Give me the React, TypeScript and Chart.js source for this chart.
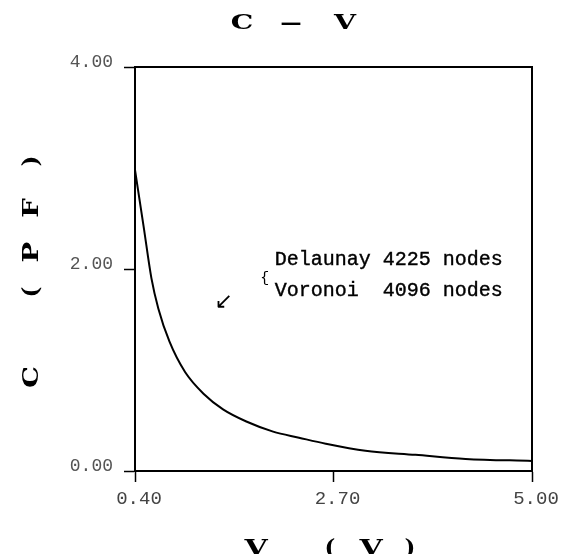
import React, { useEffect, useRef } from "react";
import { Chart, registerables } from "chart.js";

Chart.register(...registerables);

// ---- data ----
const voltage = [0.40, 0.50, 0.59, 0.67, 0.80, 0.98, 1.20, 1.42, 1.69, 2.00, 2.30, 2.61, 3.07, 3.65, 4.23, 5.00];
const capacitance = [2.98, 2.42, 1.91, 1.61, 1.28, 0.98, 0.76, 0.61, 0.49, 0.39, 0.33, 0.27, 0.20, 0.16, 0.12, 0.10];
const xTickValues = [0.4, 2.7, 5.0];
const yTickValues = [0, 2, 4];
const titleChars = ["C", "—", "V"];
const xTitleChars = ["V", "(", "V", ")"];
const yTitleChars = ["C", "(", "P", "F", ")"];
const noteLines = ["Delaunay 4225 nodes", "Voronoi  4096 nodes"];
const noteAnchor = { v: 2.02, c: 2.04 };

const SERIF = '"DejaVu Serif", "Liberation Serif", serif';
const MONO = '"Liberation Mono", "DejaVu Sans Mono", monospace';

const textPlugin = {
  id: "textPlugin",
  afterDraw(chart: any) {
    const ctx = chart.ctx as CanvasRenderingContext2D;
    const area = chart.chartArea;
    ctx.save();
    // frame
    ctx.strokeStyle = "#000";
    ctx.lineWidth = 2;
    ctx.strokeRect(area.left, area.top, area.right - area.left, area.bottom - area.top);

    const drawChar = (ch: string, cx: number, cy: number, size: number, rot: number, sx: number) => {
      ctx.save();
      ctx.translate(cx, cy);
      ctx.rotate(rot);
      ctx.scale(sx, 1);
      ctx.font = `bold ${size}px ${SERIF}`;
      ctx.fillStyle = "#000";
      ctx.textAlign = "center";
      ctx.textBaseline = "alphabetic";
      ctx.fillText(ch, 0, size * 0.36);
      ctx.restore();
    };

    // title
    const titleX = [242, 291, 345];
    titleChars.forEach((ch, i) => drawChar(ch, titleX[i], 21, 21, 0, ch === "—" ? 1 : 1.35));
    // x title
    const xTitleX = [256, 330, 371, 410];
    xTitleChars.forEach((ch, i) => drawChar(ch, xTitleX[i], 547, 23, 0, ch === "(" || ch === ")" ? 1 : 1.3));
    // y title
    const yTitleY = [377, 292, 252, 208, 161];
    yTitleChars.forEach((ch, i) => drawChar(ch, 30, yTitleY[i], 23, -Math.PI / 2, ch === "(" || ch === ")" ? 1 : 1.2));

    // annotation
    const xs = chart.scales.x;
    const ys = chart.scales.y;
    const ax = xs.getPixelForValue(noteAnchor.v);
    const ay = ys.getPixelForValue(noteAnchor.c);
    ctx.fillStyle = "#000";
    ctx.strokeStyle = "#000";
    ctx.lineWidth = 0.4;
    ctx.font = `20px ${MONO}`;
    ctx.textAlign = "left";
    ctx.textBaseline = "alphabetic";
    noteLines.forEach((line, i) => {
      ctx.fillText(line, ax, ay + i * 31);
      ctx.strokeText(line, ax, ay + i * 31);
    });
    ctx.font = `15px ${MONO}`;
    ctx.textAlign = "center";
    ctx.textBaseline = "middle";
    ctx.fillText("{", ax - 10, ay + 13);
    ctx.font = `22px "DejaVu Sans", sans-serif`;
    ctx.fillText("↙", ax - 51, ay + 37);
    ctx.restore();
  },
};

export default function App() {
  const canvasRef = useRef<HTMLCanvasElement | null>(null);

  useEffect(() => {
    if (!canvasRef.current) return;
    const chart = new Chart(canvasRef.current, {
      type: "line",
      data: {
        datasets: [
          {
            label: "C-V",
            data: voltage.map((v, i) => ({ x: v, y: capacitance[i] })),
            borderColor: "#000",
            borderWidth: 2,
            pointRadius: 0,
            fill: false,
            cubicInterpolationMode: "monotone",
          },
        ],
      },
      options: {
        responsive: false,
        animation: false,
        events: [],
        layout: { padding: { left: 0, right: 31, top: 67, bottom: 0 } },
        plugins: {
          legend: { display: false },
          title: { display: false },
          tooltip: { enabled: false },
        },
        scales: {
          x: {
            type: "linear",
            min: 0.4,
            max: 5.0,
            afterBuildTicks: (scale: any) => {
              scale.ticks = xTickValues.map((v) => ({ value: v }));
            },
            afterFit: (scale: any) => {
              scale.height = 83;
            },
            ticks: {
              autoSkip: false,
              maxRotation: 0,
              padding: 6,
              labelOffset: 4,
              color: "#444",
              font: { family: MONO, size: 19 },
              callback: (v: any) => Number(v).toFixed(2),
            },
            grid: {
              display: true,
              drawOnChartArea: false,
              drawTicks: true,
              tickLength: 11,
              tickColor: "#000",
              tickWidth: 1.5,
            },
            border: { display: true, color: "#000", width: 2 },
          },
          y: {
            type: "linear",
            min: 0,
            max: 4,
            afterBuildTicks: (scale: any) => {
              scale.ticks = yTickValues.map((v) => ({ value: v }));
            },
            afterFit: (scale: any) => {
              scale.width = 135;
            },
            ticks: {
              autoSkip: false,
              padding: 11,
              labelOffset: -5,
              color: "#555",
              font: { family: MONO, size: 18 },
              callback: (v: any) => Number(v).toFixed(2),
            },
            grid: {
              display: true,
              drawOnChartArea: false,
              drawTicks: true,
              tickLength: 11,
              tickColor: "#000",
              tickWidth: 1.5,
            },
            border: { display: true, color: "#000", width: 2 },
          },
        },
      },
      plugins: [textPlugin],
    } as any);
    return () => chart.destroy();
  }, []);

  return (
    <div style={{ position: "fixed", left: 0, top: 0, width: 563, height: 554, background: "#fff" }}>
      <canvas ref={canvasRef} width={563} height={554} style={{ display: "block" }} />
    </div>
  );
}
